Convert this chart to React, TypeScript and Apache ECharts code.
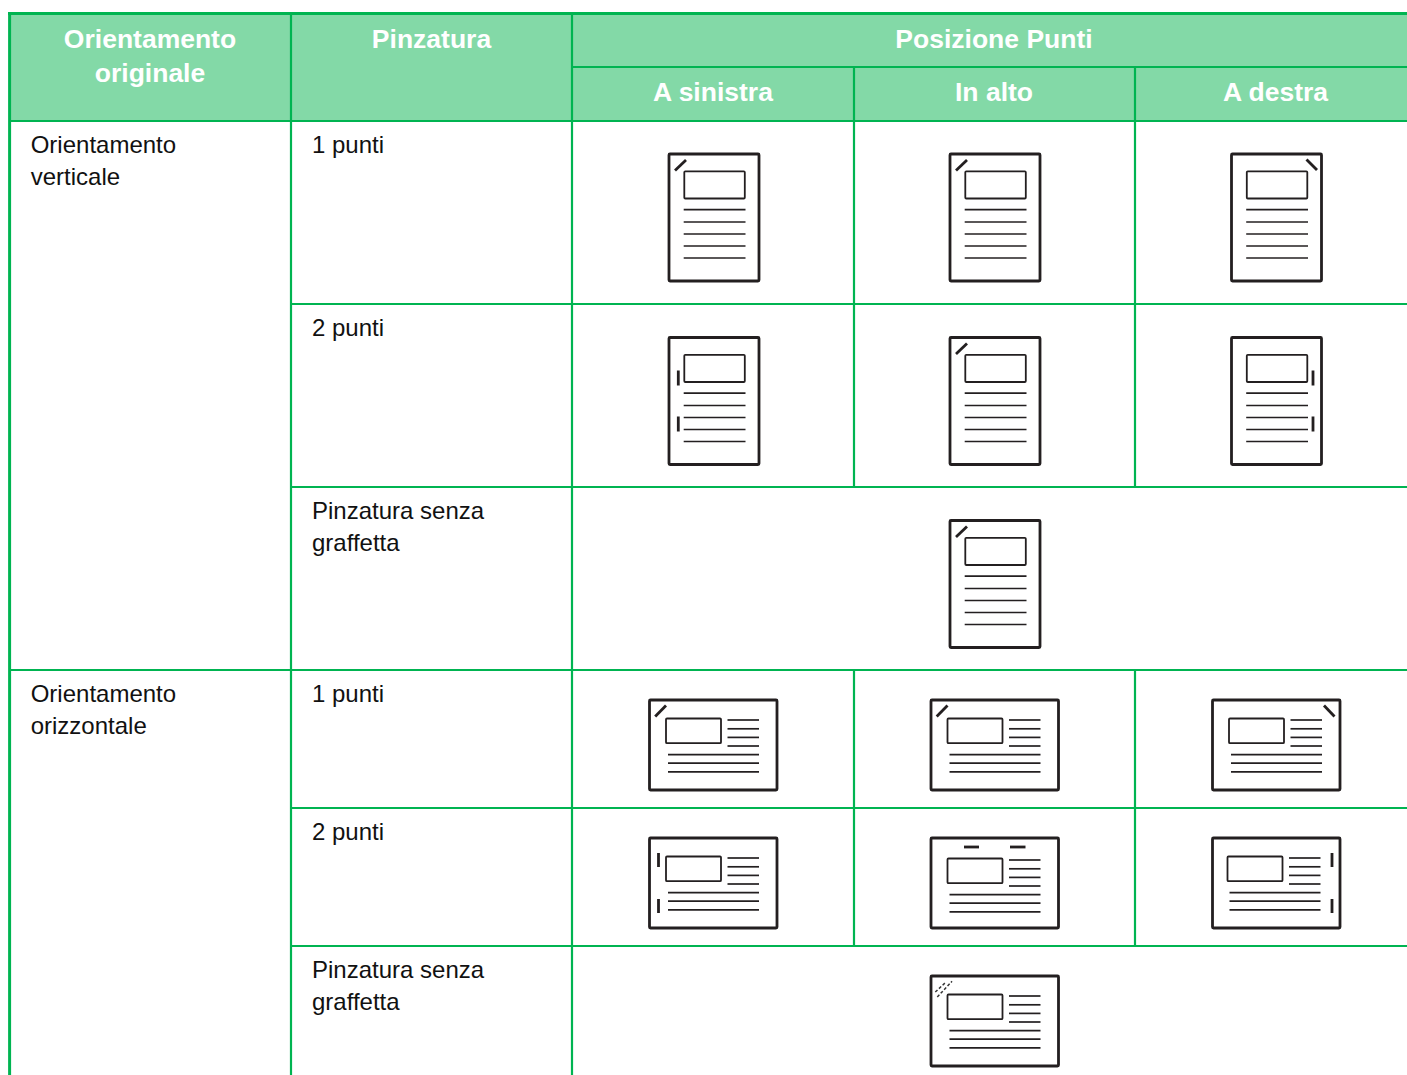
import React, { useEffect, useRef } from "react";
import * as echarts from "echarts";

const headerTop = ["Orientamento", "originale"];
const headerStaple = "Pinzatura";
const headerPos = "Posizione Punti";
const subHeaders = ["A sinistra", "In alto", "A destra"];
const orientPortrait = ["Orientamento", "verticale"];
const orientLandscape = ["Orientamento", "orizzontale"];
const stapleRows = ["1 punti", "2 punti", "Pinzatura senza|graffetta"];

const GREEN = "#00B451";
const HEAD = "#83D9A7";
const FONT = '"Liberation Sans", Arial, sans-serif';
const colX = [9.5, 291, 572, 854, 1135];
const rowY = [121, 304, 487, 670, 808, 946];
const INK = "#231F20";
const THIN = 1.8;
const THICK = 2.8;

function ln(x1: number, y1: number, x2: number, y2: number, w: number, stroke = INK, extra: any = {}) {
  return { type: "line", shape: { x1, y1, x2, y2 }, style: { stroke, lineWidth: w, ...extra }, silent: true };
}
function box(x: number, y: number, w: number, h: number, lw: number) {
  return { type: "rect", shape: { x, y, width: w, height: h, r: 1 }, style: { stroke: INK, lineWidth: lw, fill: "#fff" }, silent: true };
}
function txt(text: string, x: number, y: number, size: number, bold: boolean, fill: string, align = "left") {
  return {
    type: "text", x, y: y - 13, silent: true,
    style: { text, x: 0, y: 0, fill, font: `${bold ? "bold " : ""}${size}px ${FONT}`, textAlign: align, textBaseline: "middle" },
  };
}

function portrait(x: number, y: number, mark: string) {
  const out: any[] = [box(x, y, 90, 127, THICK), box(x + 15.3, y + 17.3, 60.5, 27.2, THIN)];
  [55.7, 68, 80, 92, 104].forEach((o) => out.push(ln(x + 14.7, y + o, x + 76.5, y + o, THIN - 0.1)));
  if (mark === "tl") out.push(ln(x + 6, y + 16.5, x + 17, y + 6, THICK));
  if (mark === "tr") out.push(ln(x + 75, y + 5.5, x + 85.5, y + 16, THICK));
  if (mark === "l") out.push(ln(x + 9.3, y + 33, x + 9.3, y + 48, THICK), ln(x + 9.3, y + 79, x + 9.3, y + 94, THICK));
  if (mark === "r") out.push(ln(x + 81.5, y + 33, x + 81.5, y + 48, THICK), ln(x + 81.5, y + 79, x + 81.5, y + 94, THICK));
  return out;
}

function landscape(x: number, y: number, mark: string, c = 0, cx = 0) {
  const out: any[] = [box(x, y, 127.5, 90, THICK), box(x + 16.5 + cx, y + 18.5 + c, 55, 24.7, THIN)];
  [20, 28.8, 37.4, 46].forEach((o) => out.push(ln(x + 78 + cx, y + o + c, x + 109.5 + cx, y + o + c, THIN - 0.1)));
  [54.7, 63.2, 71.8].forEach((o) => out.push(ln(x + 18.5 + cx, y + o + c, x + 109.5 + cx, y + o + c, THIN - 0.1)));
  if (mark === "tl") out.push(ln(x + 5.7, y + 16.5, x + 16.5, y + 5.5, THICK));
  if (mark === "tr") out.push(ln(x + 111.5, y + 5.5, x + 122, y + 16.5, THICK));
  if (mark === "l") out.push(ln(x + 9, y + 15, x + 9, y + 29, THICK), ln(x + 9, y + 61, x + 9, y + 75, THICK));
  if (mark === "r") out.push(ln(x + 119.5, y + 15, x + 119.5, y + 29, THICK), ln(x + 119.5, y + 61, x + 119.5, y + 75, THICK));
  if (mark === "t") out.push(ln(x + 33, y + 9, x + 48, y + 9, THICK), ln(x + 79, y + 9, x + 94.5, y + 9, THICK));
  if (mark === "dash") {
    const d = { lineDash: [3, 2] };
    out.push(
      ln(x + 4.3, y + 16, x + 14.3, y + 6.7, 1.5, "#333", d),
      ln(x + 6.3, y + 21, x + 21, y + 5.3, 1.5, "#333", d)
    );
  }
  return out;
}

function build() {
  const els: any[] = [];
  els.push({ type: "rect", shape: { x: 9.5, y: 13.5, width: 1400, height: 107 }, style: { fill: HEAD }, silent: true });

  // grid
  els.push(ln(8, 13.6, 1407, 13.6, 3, GREEN));
  els.push(ln(9.6, 12, 9.6, 1075, 3, GREEN));
  [1, 2, 3, 4].forEach((i) => {
    const x = colX[i];
    const top = i >= 3 ? 67 : 13;
    const segs: [number, number][] = i >= 3
      ? [[top, 487], [670, 946]]
      : [[top, 1075]];
    segs.forEach(([a, b]) => els.push(ln(x, a, x, b, 2.2, GREEN)));
  });
  els.push(ln(572, 67, 1407, 67, 2.2, GREEN));
  rowY.forEach((y, i) => {
    const x0 = i === 0 || i === 3 ? 9.5 : 291;
    els.push(ln(x0, y, 1407, y, 2.2, GREEN));
  });

  // headers
  els.push(txt(headerTop[0], 150, 38.5, 26.5, true, "#fff", "center"));
  els.push(txt(headerTop[1], 150, 72.5, 26.5, true, "#fff", "center"));
  els.push(txt(headerStaple, 431.5, 38.5, 26.5, true, "#fff", "center"));
  els.push(txt(headerPos, 994, 38.5, 26.5, true, "#fff", "center"));
  const subX = [713, 994, 1275.5];
  subHeaders.forEach((s, i) => els.push(txt(s, subX[i], 91.5, 26.5, true, "#fff", "center")));

  // body text
  const BODY = "#111";
  orientPortrait.forEach((s, i) => els.push(txt(s, 30.7, 145 + i * 32, 24, false, BODY)));
  orientLandscape.forEach((s, i) => els.push(txt(s, 30.7, 694 + i * 32, 24, false, BODY)));
  const rowTextY = [145, 328, 511, 694, 832, 970];
  rowTextY.forEach((y, i) => {
    stapleRows[i % 3].split("|").forEach((s, j) => els.push(txt(s, 312, y + j * 32, 24, false, BODY)));
  });

  // portrait icons
  const pX = [669, 950, 1231.5];
  [["tl", "tl", "tr"], ["l", "tl", "r"]].forEach((marks, r) => {
    marks.forEach((m, c) => els.push(...portrait(pX[c], [154, 337.5][r], m)));
  });
  els.push(...portrait(950, 520.5, "tl"));

  // landscape icons
  const lX = [649.5, 931, 1212.5];
  ["tl", "tl", "tr"].forEach((m, c) => els.push(...landscape(lX[c], 700, m)));
  const cOff = [0, 2, 0];
  const xOff = [0, 0, -1.5];
  ["l", "t", "r"].forEach((m, c) => els.push(...landscape(lX[c], 838, m, cOff[c], xOff[c])));
  els.push(...landscape(931, 976, "dash"));
  return els;
}

export default function App() {
  const ref = useRef<HTMLDivElement>(null);
  useEffect(() => {
    document.body.style.margin = "0";
    const chart = echarts.init(ref.current!, null, { renderer: "svg" });
    chart.setOption({ animation: false, backgroundColor: "#fff", graphic: { elements: build() } });
    return () => chart.dispose();
  }, []);
  return <div ref={ref} style={{ width: 1407, height: 1075 }} />;
}
